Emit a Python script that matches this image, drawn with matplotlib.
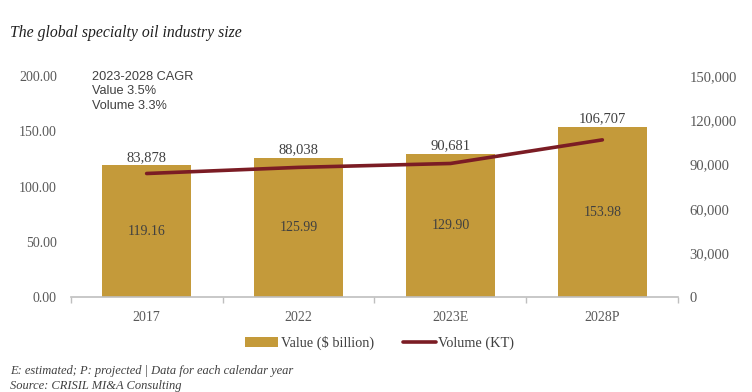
import matplotlib.pyplot as plt
import numpy as np

years = ["2017", "2022", "2023E", "2028P"]
value_bn = [119.16, 125.99, 129.90, 153.98]
volume_kt = [83878, 88038, 90681, 106707]

bar_color = "#C49A3A"
line_color = "#7B1C24"
grey = "#595959"
serif = "Liberation Serif"

fig = plt.figure(figsize=(7.52, 3.92), dpi=100)
ax = fig.add_axes([0.094, 0.242, 0.808, 0.564])
ax2 = ax.twinx()

x = np.arange(len(years))
ax.bar(x, value_bn, width=0.59, color=bar_color, label="Value ($ billion)", zorder=2)
ax2.plot(x, volume_kt, color=line_color, lw=2.6, solid_capstyle="round",
         label="Volume (KT)", zorder=3)

ax.set_xlim(-0.5, len(years) - 0.5)
ax.set_ylim(0, 200)
ax2.set_ylim(0, 150000)
ax.set_yticks(np.arange(0, 201, 50))
ax.set_yticklabels([f"{v:.2f}" for v in np.arange(0, 201, 50)])
ax2.set_yticks(np.arange(0, 150001, 30000))
ax2.set_yticklabels([f"{v:,}" for v in range(0, 150001, 30000)])

ax.set_xticks(x)
ax.set_xticklabels(years)
ax.set_xticks(np.arange(-0.5, len(years), 1), minor=True)
ax.tick_params(axis="x", which="major", length=0, pad=10, labelsize=10, labelcolor=grey)
ax.tick_params(axis="x", which="minor", length=4, color="#BFBFBF", width=1)
ax.tick_params(axis="y", length=0, pad=10, labelsize=10, labelcolor=grey)
ax2.tick_params(axis="y", length=0, pad=8, labelsize=10.5, labelcolor=grey)

for a in (ax, ax2):
    for s in ["left", "right", "top"]:
        a.spines[s].set_visible(False)
ax2.spines["bottom"].set_visible(False)
ax.spines["bottom"].set_color("#BFBFBF")
ax.spines["bottom"].set_linewidth(1.2)

for lab in ax.get_xticklabels() + ax.get_yticklabels() + ax2.get_yticklabels():
    lab.set_fontfamily(serif)

for xi, v in zip(x, value_bn):
    ax.text(xi, v / 2, f"{v:.2f}", ha="center", va="center", fontsize=10,
            color="#404040", family=serif, zorder=4)
for xi, v, b in zip(x, volume_kt, value_bn):
    ax.text(xi, b + 1.5, f"{v:,}", ha="center", va="bottom", fontsize=10.5,
            color="#404040", family=serif, zorder=4)

ax.text(-0.36, 205, "2023-2028 CAGR\nValue 3.5%\nVolume 3.3%", ha="left", va="top",
        fontsize=9.2, color="#404040", family="Liberation Sans", linespacing=1.3)

h1, l1 = ax.get_legend_handles_labels()
h2, l2 = ax2.get_legend_handles_labels()
fig.legend(h1 + h2, l1 + l2, loc="center", bbox_to_anchor=(0.505, 0.125), ncol=2,
           frameon=False, prop={"family": serif, "size": 10.3}, handlelength=2.3,
           handletextpad=0.2, columnspacing=2.0, labelcolor="#404040")

fig.text(0.013, 0.905, "The global specialty oil industry size", fontsize=11.3,
         style="italic", family=serif, color="#202020")
fig.text(0.013, 0.047, "E: estimated; P: projected | Data for each calendar year", fontsize=9,
         style="italic", family=serif, color="#404040")
fig.text(0.013, 0.007, "Source: CRISIL MI&A Consulting", fontsize=9,
         style="italic", family=serif, color="#404040")

fig.savefig("out.png", dpi=100, facecolor="white")
